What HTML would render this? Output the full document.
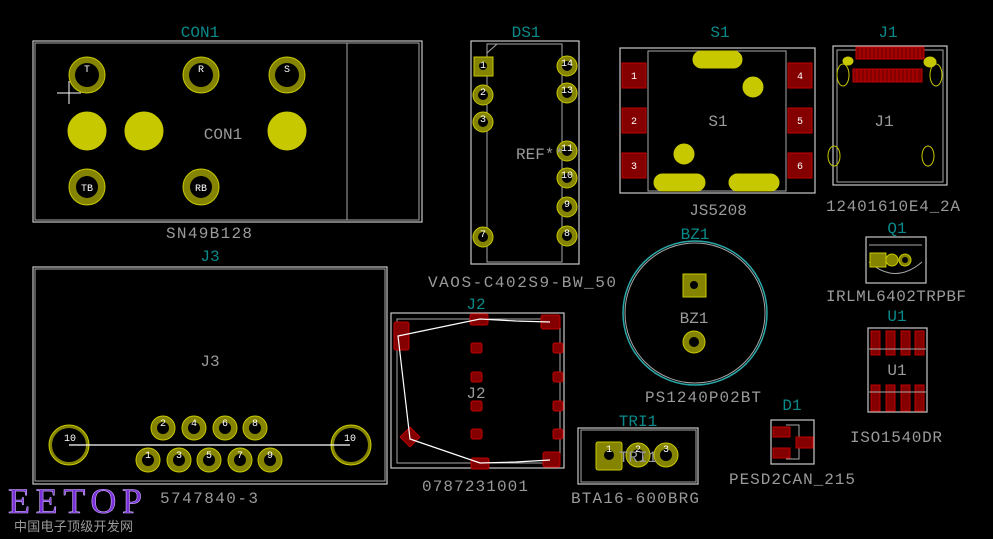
<!DOCTYPE html>
<html><head><meta charset="utf-8"><style>
html,body{margin:0;padding:0;background:#000;}
svg{display:block;}
text{font-family:"Liberation Mono","DejaVu Sans Mono",monospace;}
.t{fill:#0a8a8a;font-size:16px;text-anchor:middle;}
.g{fill:#9a9a9a;font-size:16px;text-anchor:middle;}
.pn{fill:#fff;font-size:10px;text-anchor:middle;}
.ol{fill:none;stroke:#c8c8c8;stroke-width:1.2;}
.ol2{fill:none;stroke:#a8a8a8;stroke-width:1;}
.rp{fill:#840000;stroke:#c20000;stroke-width:1;}
.yp{fill:#c8c800;stroke:#c8c800;stroke-width:1;}
.rg{fill:#848400;stroke:#c8c800;stroke-width:1;}
</style></head><body>
<svg width="993" height="539" viewBox="0 0 993 539" xmlns="http://www.w3.org/2000/svg">
<rect width="993" height="539" fill="#000"/>

<!-- CON1 -->
<text class="t" x="200" y="37">CON1</text>
<rect class="ol" x="33" y="41" width="389" height="181"/>
<rect class="ol2" x="35" y="43" width="384" height="177"/>
<line x1="347" y1="43" x2="347" y2="220" stroke="#a8a8a8"/>
<g>
<circle class="rg" cx="87" cy="75" r="18"/><circle cx="87" cy="75" r="12" fill="#000"/>
<circle class="rg" cx="201" cy="75" r="18"/><circle cx="201" cy="75" r="12" fill="#000"/>
<circle class="rg" cx="287" cy="75" r="18"/><circle cx="287" cy="75" r="12" fill="#000"/>
<text class="pn" x="87" y="72">T</text><text class="pn" x="201" y="72">R</text><text class="pn" x="287" y="72">S</text>
<circle class="yp" cx="87" cy="131" r="19"/><circle class="yp" cx="144" cy="131" r="19"/><circle class="yp" cx="287" cy="131" r="19"/>
<circle class="rg" cx="87" cy="187" r="18"/><circle cx="87" cy="187" r="11" fill="#000"/>
<circle class="rg" cx="201" cy="187" r="18"/><circle cx="201" cy="187" r="11" fill="#000"/>
<text class="pn" x="87" y="191" font-size="11">TB</text><text class="pn" x="201" y="191" font-size="11">RB</text>
</g>
<text class="g" x="223" y="139">CON1</text>
<text class="g" x="209" y="238" textLength="86">SN49B128</text>
<line x1="57" y1="93" x2="81" y2="93" stroke="#fff"/><line x1="69" y1="81" x2="69" y2="104" stroke="#fff"/>

<!-- DS1 -->
<text class="t" x="526" y="37">DS1</text>
<rect class="ol" x="471" y="41" width="108" height="223"/>
<path d="M487 44 L562 44 L562 262 L487 262 Z M487 53 L497 44" fill="none" stroke="#a8a8a8"/>
<rect x="474" y="57" width="19" height="19" fill="#848400" stroke="#c8c800"/><circle cx="483" cy="66" r="4" fill="#000"/>
<g>
<circle class="rg" cx="483" cy="95" r="10"/><circle cx="483" cy="95" r="5" fill="#000"/>
<circle class="rg" cx="483" cy="122" r="10"/><circle cx="483" cy="122" r="5" fill="#000"/>
<circle class="rg" cx="483" cy="237" r="10"/><circle cx="483" cy="237" r="5" fill="#000"/>
<circle class="rg" cx="567" cy="66" r="10"/><circle cx="567" cy="66" r="5" fill="#000"/>
<circle class="rg" cx="567" cy="93" r="10"/><circle cx="567" cy="93" r="5" fill="#000"/>
<circle class="rg" cx="567" cy="151" r="10"/><circle cx="567" cy="151" r="5" fill="#000"/>
<circle class="rg" cx="567" cy="178" r="10"/><circle cx="567" cy="178" r="5" fill="#000"/>
<circle class="rg" cx="567" cy="207" r="10"/><circle cx="567" cy="207" r="5" fill="#000"/>
<circle class="rg" cx="567" cy="236" r="10"/><circle cx="567" cy="236" r="5" fill="#000"/>
</g>
<text class="pn" x="483" y="68">1</text><text class="pn" x="483" y="95">2</text><text class="pn" x="483" y="122">3</text><text class="pn" x="483" y="237">7</text>
<text class="pn" x="567" y="66">14</text><text class="pn" x="567" y="93">13</text><text class="pn" x="567" y="151">11</text><text class="pn" x="567" y="178">10</text><text class="pn" x="567" y="207">9</text><text class="pn" x="567" y="236">8</text>
<text class="g" x="540" y="159">REF**</text>
<text class="g" x="522" y="287" textLength="188">VAOS-C402S9-BW_50</text>

<!-- S1 -->
<text class="t" x="720" y="37">S1</text>
<rect class="ol" x="620" y="48" width="195" height="145"/>
<rect class="ol2" x="648" y="51" width="138" height="140"/>
<rect class="rp" x="622" y="63" width="24" height="25"/><rect class="rp" x="622" y="108" width="24" height="25"/><rect class="rp" x="622" y="153" width="24" height="25"/>
<rect class="rp" x="788" y="63" width="24" height="25"/><rect class="rp" x="788" y="108" width="24" height="25"/><rect class="rp" x="788" y="153" width="24" height="25"/>
<text class="pn" x="634" y="79">1</text><text class="pn" x="634" y="124">2</text><text class="pn" x="634" y="169">3</text>
<text class="pn" x="800" y="79">4</text><text class="pn" x="800" y="124">5</text><text class="pn" x="800" y="169">6</text>
<rect class="yp" x="654" y="174" width="51" height="17" rx="8.5"/>
<rect class="yp" x="729" y="174" width="50" height="17" rx="8.5"/>
<rect class="yp" x="693" y="51" width="49" height="17" rx="8.5"/>
<circle class="yp" cx="753" cy="87" r="10"/>
<circle class="yp" cx="684" cy="154" r="10"/>
<text class="g" x="718" y="126">S1</text>
<text class="g" x="718" y="215">JS5208</text>

<!-- J1 -->
<text class="t" x="888" y="37">J1</text>
<rect class="ol" x="833" y="46" width="114" height="139"/>
<rect class="ol2" x="837" y="50" width="106" height="132"/>
<rect class="rp" x="856" y="47" width="68" height="12"/>
<rect class="rp" x="853" y="69" width="69" height="13"/>
<g stroke="#c20000" stroke-width="1">
<path d="M860 47v12M864 47v12M868 47v12M872 47v12M876 47v12M880 47v12M884 47v12M888 47v12M892 47v12M896 47v12M900 47v12M904 47v12M908 47v12M912 47v12M916 47v12M920 47v12"/>
<path d="M857 69v13M861 69v13M865 69v13M869 69v13M873 69v13M877 69v13M881 69v13M885 69v13M889 69v13M893 69v13M897 69v13M901 69v13M905 69v13M909 69v13M913 69v13M917 69v13"/>
</g>
<ellipse class="yp" cx="848" cy="61" rx="5" ry="4"/><ellipse class="yp" cx="930" cy="62" rx="6" ry="5"/>
<ellipse cx="843" cy="75" rx="6" ry="11" fill="none" stroke="#c8c800"/><ellipse cx="936" cy="75" rx="6" ry="11" fill="none" stroke="#c8c800"/>
<ellipse cx="834" cy="156" rx="6" ry="10" fill="none" stroke="#c8c800"/><ellipse cx="928" cy="156" rx="6" ry="10" fill="none" stroke="#c8c800"/>
<text class="g" x="884" y="126">J1</text>
<text class="g" x="893" y="211" textLength="134">12401610E4_2A</text>

<!-- Q1 -->
<text class="t" x="897" y="233">Q1</text>
<rect class="ol" x="866" y="237" width="60" height="46"/>
<path d="M869 245 L922 245 M869 262 Q895 285 922 262" fill="none" stroke="#a8a8a8"/>
<rect x="870" y="253" width="16" height="14" fill="#848400" stroke="#c8c800"/>
<circle class="rg" cx="892" cy="260" r="6"/><circle class="rg" cx="905" cy="260" r="6"/><circle cx="905" cy="260" r="3" fill="#000"/>
<text class="g" x="896" y="301" textLength="140">IRLML6402TRPBF</text>

<!-- BZ1 -->
<text class="t" x="695" y="239">BZ1</text>
<circle cx="695" cy="313" r="72" fill="none" stroke="#2aa8a8" stroke-width="1.5"/>
<circle cx="695" cy="313" r="70" fill="none" stroke="#a8a8a8" stroke-width="1"/>
<rect x="683" y="274" width="23" height="23" fill="#848400" stroke="#c8c800"/><circle cx="694" cy="285" r="4" fill="#000"/>
<circle class="rg" cx="694" cy="342" r="11"/><circle cx="694" cy="342" r="5" fill="#000"/>
<text class="g" x="694" y="323">BZ1</text>
<text class="g" x="703" y="402" textLength="116">PS1240P02BT</text>

<!-- U1 -->
<text class="t" x="897" y="321">U1</text>
<rect class="ol" x="868" y="328" width="59" height="84"/>
<g class="rp"><rect x="871" y="331" width="9" height="24"/><rect x="886" y="331" width="9" height="24"/><rect x="901" y="331" width="9" height="24"/><rect x="915" y="331" width="9" height="24"/>
<rect x="871" y="385" width="9" height="26"/><rect x="886" y="385" width="9" height="26"/><rect x="901" y="385" width="9" height="26"/><rect x="915" y="385" width="9" height="26"/></g>
<path d="M869 349H926M869 392H926" stroke="#a8a8a8"/>
<text class="g" x="897" y="375">U1</text>
<text class="g" x="896" y="442" textLength="92">ISO1540DR</text>

<!-- D1 -->
<text class="t" x="792" y="410">D1</text>
<rect class="ol" x="771" y="420" width="43" height="44"/>
<path d="M786 425H799V459H786" fill="none" stroke="#a8a8a8"/>
<rect class="rp" x="773" y="427" width="17" height="10"/><rect class="rp" x="773" y="448" width="17" height="10"/><rect class="rp" x="796" y="437" width="17" height="11"/>
<text class="g" x="792" y="484" textLength="126">PESD2CAN_215</text>

<!-- J2 -->
<text class="t" x="476" y="309">J2</text>
<rect class="ol" x="391" y="313" width="173" height="155"/>
<rect class="ol2" x="397" y="319" width="163" height="144"/>
<rect class="rp" x="394" y="322" width="15" height="28" rx="2"/>
<rect class="rp" x="470" y="314" width="18" height="11" rx="2"/>
<rect class="rp" x="541" y="315" width="19" height="14" rx="2"/>
<g class="rp">
<rect x="471" y="343" width="11" height="10" rx="2"/><rect x="471" y="372" width="11" height="10" rx="2"/><rect x="471" y="401" width="11" height="10" rx="2"/><rect x="471" y="429" width="11" height="10" rx="2"/>
<rect x="553" y="343" width="10" height="10" rx="2"/><rect x="553" y="372" width="10" height="10" rx="2"/><rect x="553" y="401" width="10" height="10" rx="2"/><rect x="553" y="429" width="10" height="10" rx="2"/>
</g>
<rect class="rp" x="403" y="430" width="14" height="14" transform="rotate(45 410 437)"/>
<rect class="rp" x="471" y="458" width="18" height="11" rx="2"/>
<rect class="rp" x="543" y="452" width="17" height="15" rx="2"/>
<polyline points="550,322 516,321 480,319 398,336 410,439 480,463 516,462 550,460" fill="none" stroke="#fff" stroke-width="1.2"/>
<text class="g" x="476" y="398">J2</text>
<text class="g" x="475" y="491" textLength="106">0787231001</text>

<!-- TRI1 -->
<text class="t" x="638" y="426">TRI1</text>
<rect class="ol" x="578" y="428" width="120" height="56"/>
<rect class="ol2" x="581" y="430" width="115" height="52"/>
<rect x="596" y="442" width="26" height="28" rx="2" fill="#848400" stroke="#c8c800"/><circle cx="609" cy="455" r="5" fill="#000"/>
<circle class="rg" cx="638" cy="455" r="12"/><circle cx="638" cy="455" r="6" fill="#000"/>
<circle class="rg" cx="666" cy="455" r="12"/><circle cx="666" cy="455" r="6" fill="#000"/>
<text class="pn" x="609" y="452">1</text><text class="pn" x="638" y="452">2</text><text class="pn" x="666" y="452">3</text>
<text class="g" x="638" y="462">TRI1</text>
<text class="g" x="635" y="503" textLength="128">BTA16-600BRG</text>

<!-- J3 -->
<text class="t" x="210" y="261">J3</text>
<rect class="ol" x="33" y="267" width="354" height="217"/>
<rect class="ol2" x="35" y="269" width="350" height="212"/>
<circle class="rg" cx="69" cy="445" r="20"/><circle cx="69" cy="445" r="17" fill="#000"/>
<circle class="rg" cx="351" cy="445" r="20"/><circle cx="351" cy="445" r="17" fill="#000"/>
<g>
<circle class="rg" cx="163" cy="428" r="12"/><circle cx="163" cy="428" r="6" fill="#000"/>
<circle class="rg" cx="194" cy="428" r="12"/><circle cx="194" cy="428" r="6" fill="#000"/>
<circle class="rg" cx="225" cy="428" r="12"/><circle cx="225" cy="428" r="6" fill="#000"/>
<circle class="rg" cx="255" cy="428" r="12"/><circle cx="255" cy="428" r="6" fill="#000"/>
<circle class="rg" cx="148" cy="460" r="12"/><circle cx="148" cy="460" r="6" fill="#000"/>
<circle class="rg" cx="179" cy="460" r="12"/><circle cx="179" cy="460" r="6" fill="#000"/>
<circle class="rg" cx="209" cy="460" r="12"/><circle cx="209" cy="460" r="6" fill="#000"/>
<circle class="rg" cx="240" cy="460" r="12"/><circle cx="240" cy="460" r="6" fill="#000"/>
<circle class="rg" cx="270" cy="460" r="12"/><circle cx="270" cy="460" r="6" fill="#000"/>
</g>
<text class="pn" x="163" y="426">2</text><text class="pn" x="194" y="426">4</text><text class="pn" x="225" y="426">6</text><text class="pn" x="255" y="426">8</text>
<text class="pn" x="148" y="458">1</text><text class="pn" x="179" y="458">3</text><text class="pn" x="209" y="458">5</text><text class="pn" x="240" y="458">7</text><text class="pn" x="270" y="458">9</text>
<line x1="69" y1="445" x2="350" y2="445" stroke="#fff" stroke-width="1.2"/>
<text class="pn" x="70" y="441" font-size="13">10</text><text class="pn" x="350" y="441" font-size="13">10</text>
<text class="g" x="210" y="366">J3</text>
<text class="g" x="209" y="503" textLength="98">5747840-3</text>

<!-- EETOP logo -->
<text x="8" y="513" style="font-family:'Liberation Serif',serif;font-size:36px;fill:#7a30d8;stroke:#d0b0ff;stroke-width:0.6" textLength="134">EETOP</text>
<text x="14" y="531" style="font-family:'Liberation Sans','Noto Sans CJK SC',sans-serif;font-size:13px;fill:#9a9a9a" textLength="119">中国电子顶级开发网</text>
</svg>
</body></html>
